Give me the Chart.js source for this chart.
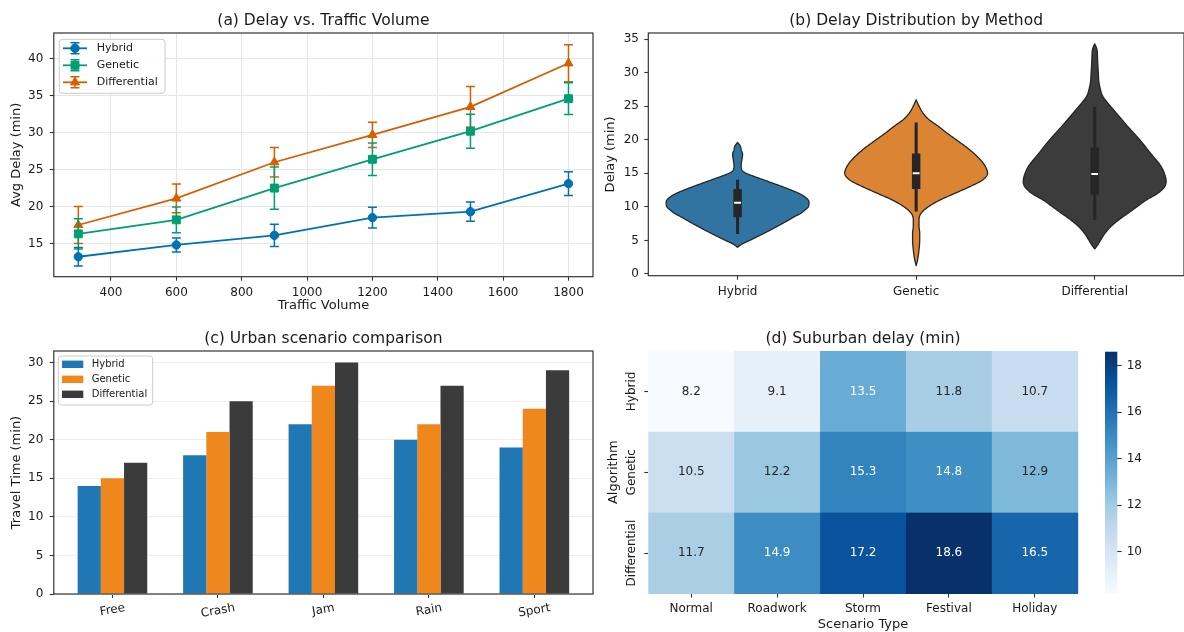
<!DOCTYPE html>
<html>
<head>
<meta charset="utf-8">
<title>Traffic delay comparison</title>
<script src="https://cdn.jsdelivr.net/npm/chart.js@4.4.1/dist/chart.umd.min.js"></script>
<style>
  html, body { margin: 0; padding: 0; background: #ffffff; overflow: hidden; }
  #figure { position: relative; width: 1184px; height: 632px; overflow: hidden; background: #ffffff; }
  #figure canvas { position: absolute; }
</style>
</head>
<body>
<div id="figure">
  <canvas id="panelA" width="600" height="318" style="left:0;top:0;width:600px;height:318px"></canvas>
  <canvas id="panelB" width="600" height="318" style="left:590px;top:0;width:600px;height:318px"></canvas>
  <canvas id="panelC" width="600" height="314" style="left:0;top:318px;width:600px;height:314px"></canvas>
  <canvas id="panelD" width="505" height="314" style="left:590px;top:318px;width:505px;height:314px"></canvas>
  <canvas id="panelDbar" width="89" height="314" style="left:1095px;top:318px;width:89px;height:314px"></canvas>
</div>
<script>
// ---------- (a) average delay against traffic volume ----------
const methods = ['Hybrid', 'Genetic', 'Differential'];
const trafficVolume = [300, 600, 900, 1200, 1500, 1800];
const hybridDelay = [13.2, 14.8, 16.1, 18.5, 19.3, 23.1];
const hybridDelayErr = [1.25, 0.95, 1.5, 1.4, 1.3, 1.6];
const geneticDelay = [16.3, 18.2, 22.5, 26.4, 30.2, 34.6];
const geneticDelayErr = [2.05, 1.75, 2.85, 2.2, 2.3, 2.15];
const differentialDelay = [17.5, 21.1, 26.0, 29.7, 33.5, 39.4];
const differentialDelayErr = [2.5, 1.95, 2.0, 1.7, 2.75, 2.5];
const volumeTicks = [400, 600, 800, 1000, 1200, 1400, 1600, 1800];
const avgDelayTicks = [15, 20, 25, 30, 35, 40];

// ---------- (b) delay distribution per method (density outline + box stats) ----------
const hybridViolinLevels = [3.98, 4.5, 5, 6, 7, 8, 8.5, 9, 9.5, 10, 10.6, 11, 11.5, 12, 12.5, 13, 13.5, 14, 14.5, 15, 15.5, 16.2, 17, 17.8, 18.5, 19, 19.6];
const hybridViolinWidths = [0, 0.07, 0.17, 0.36, 0.54, 0.71, 0.79, 0.88, 0.94, 0.99, 1, 0.99, 0.94, 0.86, 0.75, 0.63, 0.5, 0.37, 0.24, 0.12, 0.06, 0.05, 0.06, 0.07, 0.05, 0.04, 0];
const geneticViolinLevels = [1.24, 2.1, 3.6, 5.1, 6.1, 7.1, 8.1, 9.05, 10, 11, 12, 13, 14, 15, 16, 17, 18.5, 20, 21, 22, 23, 23.9, 25, 25.95];
const geneticViolinWidths = [0, 0.02, 0.04, 0.05, 0.05, 0.04, 0.04, 0.07, 0.17, 0.33, 0.54, 0.75, 0.93, 1, 0.97, 0.9, 0.75, 0.56, 0.43, 0.31, 0.18, 0.1, 0.04, 0];
const differentialViolinLevels = [3.73, 4.3, 5, 6, 7, 8, 9, 10, 11, 12, 13, 13.8, 14.5, 16, 18, 20, 22, 23, 24.5, 25.5, 26.2, 26.8, 27.5, 28.5, 30, 32, 33.5, 34.3];
const differentialViolinWidths = [0, 0.04, 0.08, 0.14, 0.22, 0.33, 0.46, 0.59, 0.72, 0.88, 0.98, 1, 0.99, 0.93, 0.78, 0.63, 0.46, 0.38, 0.26, 0.18, 0.13, 0.1, 0.08, 0.06, 0.05, 0.04, 0.03, 0];
const boxWhiskerLow = [6.0, 9.35, 8.1];
const boxQ1 = [8.5, 12.7, 11.9];
const boxMedian = [10.6, 15.0, 14.9];
const boxQ3 = [12.6, 17.9, 18.8];
const boxWhiskerHigh = [14.0, 22.5, 24.85];
const distributionTicks = [0, 5, 10, 15, 20, 25, 30, 35];

// ---------- (c) urban travel time ----------
const urbanScenarios = ['Free', 'Crash', 'Jam', 'Rain', 'Sport'];
const urbanHybrid = [14, 18, 22, 20, 19];
const urbanGenetic = [15, 21, 27, 22, 24];
const urbanDifferential = [17, 25, 30, 27, 29];
const travelTimeTicks = [0, 5, 10, 15, 20, 25, 30];

// ---------- (d) suburban delay table ----------
const suburbanScenarios = ['Normal', 'Roadwork', 'Storm', 'Festival', 'Holiday'];
const suburbanHybrid = [8.2, 9.1, 13.5, 11.8, 10.7];
const suburbanGenetic = [10.5, 12.2, 15.3, 14.8, 12.9];
const suburbanDifferential = [11.7, 14.9, 17.2, 18.6, 16.5];
const colorbarTicks = [10, 12, 14, 16, 18];

// ---------- shared styling ----------
const FONT = 'DejaVu Sans';
const INK = '#1a1a1a';
const SPINE = '#333333';
const GRID_A = '#e6e6e6';
const GRID_C = '#efefef';
const BOX = '#262626';
const BLUES = ['#f7fbff', '#deebf7', '#c6dbef', '#9ecae1', '#6baed6', '#4292c6', '#2171b5', '#08519c', '#08306b'];

Chart.defaults.font.family = FONT;
Chart.defaults.font.size = 12;
Chart.defaults.color = INK;
Chart.defaults.animation = false;
Chart.defaults.responsive = false;
Chart.defaults.devicePixelRatio = 1;
Chart.defaults.plugins.legend.display = false;
Chart.defaults.plugins.tooltip.enabled = false;

function fixedTicks(values) {
  return scale => { scale.ticks = values.map(v => ({ value: v })); };
}
function panelTitle(text) {
  return { display: true, text, color: INK, fullSize: false,
           font: { family: FONT, size: 15.5, weight: 'normal' }, padding: { top: 11.7, bottom: 2.7 } };
}
function axisTitle(text, padding) {
  return { display: true, text, color: INK, font: { family: FONT, size: 13, weight: 'normal' }, padding };
}
function tickMarks(extra) {
  return Object.assign({ display: true, drawOnChartArea: false, offset: false, tickColor: SPINE, tickLength: 4, tickWidth: 1.1 }, extra || {});
}

function hexToRgb(h) {
  return [parseInt(h.slice(1, 3), 16), parseInt(h.slice(3, 5), 16), parseInt(h.slice(5, 7), 16)];
}
function bluesColor(t) {
  t = Math.max(0, Math.min(1, t));
  const p = t * (BLUES.length - 1);
  const i = Math.min(BLUES.length - 2, Math.floor(p));
  const f = p - i;
  const a = hexToRgb(BLUES[i]), b = hexToRgb(BLUES[i + 1]);
  return a.map((c, k) => Math.round(c + (b[k] - c) * f));
}
function luminance(rgb) {
  const lin = rgb.map(c => { c /= 255; return c <= 0.03928 ? c / 12.92 : Math.pow((c + 0.055) / 1.055, 2.4); });
  return 0.2126 * lin[0] + 0.7152 * lin[1] + 0.0722 * lin[2];
}

// monotone cubic interpolation for the violin outlines
function monotoneInterpolator(xs, ys) {
  const n = xs.length, d = [], m = new Array(n);
  for (let i = 0; i < n - 1; i++) d.push((ys[i + 1] - ys[i]) / (xs[i + 1] - xs[i]));
  m[0] = d[0]; m[n - 1] = d[n - 2];
  for (let i = 1; i < n - 1; i++) m[i] = d[i - 1] * d[i] <= 0 ? 0 : (d[i - 1] + d[i]) / 2;
  for (let i = 0; i < n - 1; i++) {
    if (d[i] === 0) { m[i] = 0; m[i + 1] = 0; continue; }
    const a = m[i] / d[i], b = m[i + 1] / d[i], s = a * a + b * b;
    if (s > 9) { const t = 3 / Math.sqrt(s); m[i] = t * a * d[i]; m[i + 1] = t * b * d[i]; }
  }
  return x => {
    let i = 0;
    while (i < n - 2 && x > xs[i + 1]) i++;
    const h = xs[i + 1] - xs[i], t = (x - xs[i]) / h;
    const t2 = t * t, t3 = t2 * t;
    return (2 * t3 - 3 * t2 + 1) * ys[i] + (t3 - 2 * t2 + t) * h * m[i] + (-2 * t3 + 3 * t2) * ys[i + 1] + (t3 - t2) * h * m[i + 1];
  };
}

// ---------- plugins ----------
const framePlugin = {
  id: 'frame',
  afterDraw(chart) {
    const { ctx, chartArea: a } = chart;
    ctx.save();
    ctx.strokeStyle = SPINE;
    ctx.lineWidth = 1.2;
    ctx.strokeRect(a.left, a.top, a.right - a.left, a.bottom - a.top);
    ctx.restore();
  }
};

const errorBarPlugin = {
  id: 'errorBars',
  beforeDatasetDraw(chart, args) {
    const ds = chart.data.datasets[args.index];
    if (!ds.errors) return;
    const { ctx, scales: { y } } = chart;
    ctx.save();
    ctx.strokeStyle = ds.borderColor;
    ctx.lineWidth = 1.5;
    args.meta.data.forEach((pt, i) => {
      const v = ds.data[i].y, e = ds.errors[i];
      const y1 = y.getPixelForValue(v - e), y2 = y.getPixelForValue(v + e);
      ctx.beginPath();
      ctx.moveTo(pt.x, y1); ctx.lineTo(pt.x, y2);
      ctx.moveTo(pt.x - 4.5, y1); ctx.lineTo(pt.x + 4.5, y1);
      ctx.moveTo(pt.x - 4.5, y2); ctx.lineTo(pt.x + 4.5, y2);
      ctx.stroke();
    });
    ctx.restore();
  }
};

function legendFrame(ctx, x, y, w, h) {
  const r = 3;
  ctx.beginPath();
  ctx.moveTo(x + r, y);
  ctx.arcTo(x + w, y, x + w, y + h, r);
  ctx.arcTo(x + w, y + h, x, y + h, r);
  ctx.arcTo(x, y + h, x, y, r);
  ctx.arcTo(x, y, x + w, y, r);
  ctx.closePath();
  ctx.fillStyle = 'rgba(255,255,255,0.85)';
  ctx.fill();
  ctx.strokeStyle = '#cccccc';
  ctx.lineWidth = 1;
  ctx.stroke();
}

const lineLegendPlugin = {
  id: 'lineLegend',
  afterDraw(chart) {
    const { ctx, chartArea: a } = chart;
    const bx = a.left + 5.5, by = a.top + 6.3;
    ctx.save();
    legendFrame(ctx, bx, by, 105.7, 54);
    chart.data.datasets.forEach((ds, i) => {
      const cy = by + 9 + i * 17, cx = bx + 15.7;
      ctx.strokeStyle = ds.borderColor;
      ctx.lineWidth = 1.8;
      ctx.beginPath(); ctx.moveTo(bx + 3.7, cy); ctx.lineTo(bx + 27.7, cy); ctx.stroke();
      ctx.lineWidth = 1.5;
      ctx.beginPath();
      ctx.moveTo(cx, cy - 5.5); ctx.lineTo(cx, cy + 5.5);
      ctx.moveTo(cx - 4.5, cy - 5.5); ctx.lineTo(cx + 4.5, cy - 5.5);
      ctx.moveTo(cx - 4.5, cy + 5.5); ctx.lineTo(cx + 4.5, cy + 5.5);
      ctx.stroke();
      ctx.fillStyle = ds.borderColor;
      ctx.lineWidth = 1;
      Chart.helpers.drawPoint(ctx, { pointStyle: ds.pointStyle, radius: ds.pointRadius, borderWidth: 1, rotation: 0 }, cx, cy);
      ctx.fillStyle = INK;
      ctx.font = '11px "' + FONT + '"';
      ctx.textAlign = 'left';
      ctx.textBaseline = 'middle';
      ctx.fillText(ds.label, bx + 37.4, cy);
    });
    ctx.restore();
  }
};

const barLegendPlugin = {
  id: 'barLegend',
  afterDraw(chart) {
    const { ctx, chartArea: a } = chart;
    const bx = a.left + 4.5, by = a.top + 5;
    ctx.save();
    legendFrame(ctx, bx, by, 94.4, 49);
    chart.data.datasets.forEach((ds, i) => {
      const cy = by + 8.3 + i * 15;
      ctx.fillStyle = ds.backgroundColor;
      ctx.fillRect(bx + 3.7, cy - 3.7, 21.3, 7.4);
      ctx.fillStyle = INK;
      ctx.font = '10px "' + FONT + '"';
      ctx.textAlign = 'left';
      ctx.textBaseline = 'middle';
      ctx.fillText(ds.label, bx + 33.4, cy);
    });
    ctx.restore();
  }
};

const slantedLabelPlugin = {
  id: 'slantedLabels',
  afterDraw(chart) {
    const { ctx, chartArea: a, scales: { x } } = chart;
    const ang = 10 * Math.PI / 180;
    ctx.save();
    ctx.font = '12px "' + FONT + '"';
    ctx.fillStyle = INK;
    ctx.textAlign = 'center';
    ctx.textBaseline = 'middle';
    urbanScenarios.forEach((label, i) => {
      const px = x.getPixelForValue(i);
      const w = ctx.measureText(label).width;
      const bh = w * Math.sin(ang) + 14 * Math.cos(ang);
      ctx.save();
      ctx.translate(px, a.bottom + 7 + bh / 2);
      ctx.rotate(-ang);
      ctx.fillText(label, 0, 0);
      ctx.restore();
    });
    ctx.restore();
  }
};

const violinShapes = [
  { levels: hybridViolinLevels, widths: hybridViolinWidths, color: '#3274a1' },
  { levels: geneticViolinLevels, widths: geneticViolinWidths, color: '#db8434' },
  { levels: differentialViolinLevels, widths: differentialViolinWidths, color: '#3c3c3c' }
];

const violinPlugin = {
  id: 'violins',
  beforeDatasetsDraw(chart) {
    const { ctx, scales: { x, y } } = chart;
    const half = 0.4 * (x.getPixelForValue(1) - x.getPixelForValue(0));
    violinShapes.forEach((shape, i) => {
      const cx = x.getPixelForValue(i);
      const f = monotoneInterpolator(shape.levels, shape.widths);
      const lo = shape.levels[0], hi = shape.levels[shape.levels.length - 1];
      const N = 300;
      ctx.save();
      ctx.beginPath();
      for (let k = 0; k <= N; k++) {
        const v = lo + (hi - lo) * k / N;
        const w = Math.max(0, f(v)) * half;
        const py = y.getPixelForValue(v);
        if (k === 0) ctx.moveTo(cx + w, py); else ctx.lineTo(cx + w, py);
      }
      for (let k = N; k >= 0; k--) {
        const v = lo + (hi - lo) * k / N;
        const w = Math.max(0, f(v)) * half;
        ctx.lineTo(cx - w, y.getPixelForValue(v));
      }
      ctx.closePath();
      ctx.fillStyle = shape.color;
      ctx.fill();
      ctx.strokeStyle = BOX;
      ctx.lineWidth = 1.3;
      ctx.lineJoin = 'round';
      ctx.stroke();
      ctx.restore();
    });
  }
};

const heatRows = [suburbanHybrid, suburbanGenetic, suburbanDifferential];
const heatValues = heatRows.flat();
const heatMin = Math.min(...heatValues);
const heatMax = Math.max(...heatValues);
const heatCells = [];
methods.forEach((m, r) => suburbanScenarios.forEach((s, c) => heatCells.push({ x: s, y: m, v: heatRows[r][c] })));

const heatmapPlugin = {
  id: 'heatCells',
  beforeDatasetsDraw(chart) {
    const { ctx, scales: { x, y } } = chart;
    const meta = chart.getDatasetMeta(0);
    const cw = Math.abs(x.getPixelForValue(1) - x.getPixelForValue(0));
    const ch = Math.abs(y.getPixelForValue(1) - y.getPixelForValue(0));
    const cells = chart.data.datasets[0].data;
    ctx.save();
    meta.data.forEach((el, i) => {
      const rgb = bluesColor((cells[i].v - heatMin) / (heatMax - heatMin));
      ctx.fillStyle = 'rgb(' + rgb.join(',') + ')';
      ctx.fillRect(el.x - cw / 2, el.y - ch / 2, cw + 0.5, ch + 0.5);
    });
    ctx.font = '12px "' + FONT + '"';
    ctx.textAlign = 'center';
    ctx.textBaseline = 'middle';
    meta.data.forEach((el, i) => {
      const rgb = bluesColor((cells[i].v - heatMin) / (heatMax - heatMin));
      ctx.fillStyle = luminance(rgb) > 0.408 ? '#262626' : '#ffffff';
      ctx.fillText(cells[i].v.toFixed(1), el.x, el.y);
    });
    // vertical row labels on the left axis
    const a = chart.chartArea;
    ctx.fillStyle = INK;
    methods.forEach((m, r) => {
      ctx.save();
      ctx.translate(a.left - 16.8, y.getPixelForValue(r));
      ctx.rotate(-Math.PI / 2);
      ctx.fillText(m, 0, 0);
      ctx.restore();
    });
    ctx.restore();
  }
};

const colorRampPlugin = {
  id: 'colorRamp',
  beforeDatasetsDraw(chart) {
    const { ctx, chartArea: a, scales: { y } } = chart;
    const g = ctx.createLinearGradient(0, y.getPixelForValue(heatMin), 0, y.getPixelForValue(heatMax));
    BLUES.forEach((c, i) => g.addColorStop(i / (BLUES.length - 1), c));
    ctx.save();
    ctx.fillStyle = g;
    ctx.fillRect(a.left, a.top, a.right - a.left, a.bottom - a.top);
    ctx.restore();
  }
};

// ---------- (a) ----------
function lineSeries(label, values, errors, color, pointStyle, radius) {
  return {
    label, errors, pointStyle,
    data: trafficVolume.map((v, i) => ({ x: v, y: values[i] })),
    borderColor: color, backgroundColor: color,
    pointBackgroundColor: color, pointBorderColor: color,
    pointRadius: radius, pointBorderWidth: 1, borderWidth: 1.8,
    tension: 0, fill: false
  };
}

new Chart(document.getElementById('panelA'), {
  type: 'line',
  data: {
    datasets: [
      lineSeries('Hybrid', hybridDelay, hybridDelayErr, '#0072B2', 'circle', 4.2),
      lineSeries('Genetic', geneticDelay, geneticDelayErr, '#009E73', 'rect', 5.6),
      lineSeries('Differential', differentialDelay, differentialDelayErr, '#D55E00', 'triangle', 5.2)
    ]
  },
  options: {
    layout: { padding: { left: 0, right: 7, top: 0, bottom: 0 } },
    plugins: { title: panelTitle('(a) Delay vs. Traffic Volume') },
    scales: {
      x: {
        type: 'linear', min: 225, max: 1875,
        afterBuildTicks: fixedTicks(volumeTicks),
        afterFit: s => { s.height = 41.3; },
        grid: { color: GRID_A, lineWidth: 1, tickColor: SPINE, tickLength: 4, tickWidth: 1.1 },
        border: { display: false },
        ticks: { color: INK, padding: 4.5, maxRotation: 0, autoSkip: false, callback: v => String(v) },
        title: axisTitle('Traffic Volume', { top: 0, bottom: 4.2 })
      },
      y: {
        type: 'linear', min: 10.5, max: 43.5,
        afterBuildTicks: fixedTicks(avgDelayTicks),
        afterFit: s => { s.width = 53.8; },
        grid: { color: GRID_A, lineWidth: 1, tickColor: SPINE, tickLength: 4, tickWidth: 1.1 },
        border: { display: false },
        ticks: { color: INK, padding: 6.5, callback: v => String(v) },
        title: axisTitle('Avg Delay (min)', { top: 8.7, bottom: 0 })
      }
    }
  },
  plugins: [errorBarPlugin, framePlugin, lineLegendPlugin]
});

// ---------- (b) ----------
new Chart(document.getElementById('panelB'), {
  type: 'bar',
  data: {
    labels: methods,
    datasets: [
      { label: 'whisker', data: methods.map((m, i) => [boxWhiskerLow[i], boxWhiskerHigh[i]]),
        backgroundColor: BOX, barThickness: 2.4, grouped: false, order: 3 },
      { label: 'iqr', data: methods.map((m, i) => [boxQ1[i], boxQ3[i]]),
        backgroundColor: BOX, barThickness: 7.8, grouped: false, order: 2 },
      { type: 'line', label: 'median', data: boxMedian, showLine: false,
        pointStyle: 'line', pointRadius: 3.4, pointBorderWidth: 2,
        pointBorderColor: '#ffffff', borderColor: '#ffffff', order: 1 }
    ]
  },
  options: {
    layout: { padding: { left: 0, right: 5, top: 0, bottom: 0 } },
    plugins: { title: panelTitle('(b) Delay Distribution by Method') },
    scales: {
      x: {
        offset: true,
        afterFit: s => { s.height = 42.3; },
        grid: tickMarks(),
        border: { display: false },
        ticks: { color: INK, padding: 4.5, maxRotation: 0 }
      },
      y: {
        type: 'linear', min: -0.26, max: 35.9,
        afterBuildTicks: fixedTicks(distributionTicks),
        afterFit: s => { s.width = 58.3; },
        grid: tickMarks(),
        border: { display: false },
        ticks: { color: INK, padding: 5.3, callback: v => String(v) },
        title: axisTitle('Delay (min)', { top: 13, bottom: 0 })
      }
    }
  },
  plugins: [violinPlugin, framePlugin]
});

// ---------- (c) ----------
function barSeries(label, values, color) {
  return { label, data: urbanScenarios.map((s, i) => ({ x: i, y: values[i] })), backgroundColor: color, borderWidth: 0 };
}

new Chart(document.getElementById('panelC'), {
  type: 'bar',
  data: {
    datasets: [
      barSeries('Hybrid', urbanHybrid, '#1f77b4'),
      barSeries('Genetic', urbanGenetic, '#f0871c'),
      barSeries('Differential', urbanDifferential, '#3b3b3b')
    ]
  },
  options: {
    datasets: { bar: { categoryPercentage: 0.66, barPercentage: 1.0 } },
    layout: { padding: { left: 0, right: 7, top: 0, bottom: 0 } },
    plugins: { title: panelTitle('(c) Urban scenario comparison') },
    scales: {
      x: {
        type: 'linear', min: -0.556, max: 4.556, offset: false,
        afterBuildTicks: fixedTicks(urbanScenarios.map((s, i) => i)),
        afterFit: s => { s.height = 38; },
        grid: tickMarks(),
        border: { display: false },
        ticks: { autoSkip: false, maxRotation: 0, callback: () => '' }
      },
      y: {
        type: 'linear', min: 0, max: 31.5,
        afterBuildTicks: fixedTicks(travelTimeTicks),
        afterFit: s => { s.width = 53.8; },
        grid: { color: GRID_C, lineWidth: 1, tickColor: SPINE, tickLength: 4, tickWidth: 1.1 },
        border: { display: false },
        ticks: { color: INK, padding: 6.5, callback: v => String(v) },
        title: axisTitle('Travel Time (min)', { top: 8.7, bottom: 0 })
      }
    }
  },
  plugins: [framePlugin, barLegendPlugin, slantedLabelPlugin]
});

// ---------- (d) ----------
new Chart(document.getElementById('panelD'), {
  type: 'scatter',
  data: { datasets: [{ label: 'delay', data: heatCells, pointRadius: 0, pointHoverRadius: 0 }] },
  options: {
    layout: { padding: { left: 0, right: 17.3, top: 0, bottom: 0 } },
    plugins: { title: panelTitle('(d) Suburban delay (min)') },
    scales: {
      x: {
        type: 'category', labels: suburbanScenarios, offset: true,
        afterFit: s => { s.height = 38.5; },
        grid: tickMarks(),
        border: { display: false },
        ticks: { color: INK, padding: 4.5, maxRotation: 0, autoSkip: false },
        title: axisTitle('Scenario Type', { top: 0, bottom: 0 })
      },
      y: {
        type: 'category', labels: methods, offset: true,
        afterFit: s => { s.width = 58.3; },
        grid: tickMarks(),
        border: { display: false },
        ticks: { callback: () => '' },
        title: axisTitle('Algorithm', { top: 15.5, bottom: 0 })
      }
    }
  },
  plugins: [heatmapPlugin]
});

new Chart(document.getElementById('panelDbar'), {
  type: 'scatter',
  data: { datasets: [{ label: 'scale', data: [] }] },
  options: {
    layout: { padding: { left: 10, right: 0, top: 33.7, bottom: 38.7 } },
    scales: {
      x: { display: false, min: 0, max: 1 },
      y: {
        position: 'right', min: heatMin, max: heatMax,
        afterBuildTicks: fixedTicks(colorbarTicks),
        afterFit: s => { s.width = 66.7; },
        grid: tickMarks({ tickLength: 4.4 }),
        border: { display: false },
        ticks: { color: INK, padding: 5, callback: v => String(v) }
      }
    }
  },
  plugins: [colorRampPlugin]
});
</script>
</body>
</html>
